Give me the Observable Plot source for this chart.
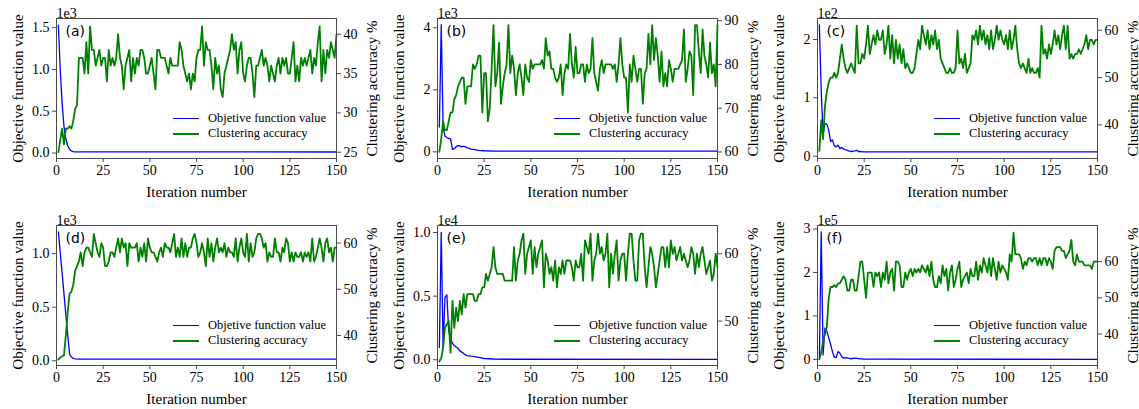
<!DOCTYPE html>
<html>
<head>
<meta charset="utf-8">
<script src="https://cdn.jsdelivr.net/npm/d3@7"></script>
<script src="https://cdn.jsdelivr.net/npm/@observablehq/plot@0.6"></script>
<style>
  html, body { margin: 0; padding: 0; background: #fff; }
  #root { position: relative; width: 1139px; height: 409px; overflow: hidden; background: #fff; }
  .panel { position: absolute; width: 380px; height: 200px; }
  .panel svg { position: absolute; left: 0; top: 0; overflow: visible; }
  .panel svg text { font-family: "Liberation Serif", serif !important; font-size: 14px !important; fill: #000; }
  .panel svg g[aria-label="y-axis label"] text, .panel svg g[aria-label="x-axis label"] text { font-size: 15px !important; }
  .panel svg g[font-family="DejaVu Sans"] text { font-family: "DejaVu Sans", sans-serif !important; font-size: 14px !important; }
  .legend { position: absolute; left: 173px; top: 111px; font-family: "Liberation Serif", serif; font-size: 12.5px; color: #000; line-height: 15px; }
  .legend .row { display: flex; align-items: center; white-space: nowrap; }
  .legend .sw { width: 26px; height: 0; margin-right: 9px; }
</style>
</head>
<body>
<div id="root"></div>
<script>
// ---------------- data ----------------
const panelTags = ["(a)", "(b)", "(c)", "(d)", "(e)", "(f)"];
const xTicks = [0, 25, 50, 75, 100, 125, 150];
const legendLabels = ["Objetive function value", "Clustering accuracy"];

// objective function value (sparse iteration points where it changes)
const objIterA = [1,2,3,4,5,6,7,8,9,10,150];
const objValA  = [1530,1000,600,320,170,90,45,25,16,13,12];
const objIterB = [1,2,3,4,5,6,7,8,9,10,11,12,13,14,15,16,17,18,20,22,25,30,150];
const objValB  = [800,4100,800,500,460,430,420,80,100,170,200,190,160,180,160,130,110,90,70,50,35,25,20];
const objIterC = [1,2,3,4,5,6,7,8,9,10,11,12,13,14,15,16,17,18,20,21,22,25,30,150];
const objValC  = [225,110,38,56,55,45,25,28,18,16,19,13,15,12,11,10,8.5,8,9,10,8,7.5,7.4,7.3];
const objIterD = [1,2,3,4,5,6,7,8,9,10,12,150];
const objValD  = [1203,1010,820,625,430,240,65,35,22,18,16,15];
const objIterE = [1,2,3,4,5,6,7,8,9,10,11,12,13,14,15,16,18,20,22,25,30,40,150];
const objValE  = [970,10000,1000,4900,5100,2300,1700,1300,1100,1000,900,700,600,500,380,330,280,240,180,100,60,40,30];
const objIterF = [1,2,3,4,5,6,7,8,9,10,11,12,13,14,15,16,18,20,22,25,150];
const objValF  = [500,293000,10000,72000,65000,50000,35000,18000,5000,4000,18000,14000,6000,3000,4000,3500,1500,3000,2000,500,300];

// clustering accuracy (%) for iterations 1..150
const accA = [25,26.5,28,26,28,28,28.3,28,29,30.5,31,37,37,37,35,39,35,41,38,38,36,37,38,36,37,
  37,34,38,36,37,36,37,40,37,36,33,36,37,38,34,37,35,37,36,38,38,37,35,35,36,
  37,35,33,38,38,37,37,37,36,35,37,36,36,36,36,39,38,36,35,34,35,33,35,34,37,
  38,38,41,36,39,38,38,36,33,37,35,36,33,32,35,36,37,38,40,38,39,35,38,39,35,
  34,36,37,37,35,32,36,36,37,38,36,37,36,34,36,35,34,36,37,35,37,36,37,35,35,
  37,39,34,36,34,37,36,37,36,37,38,35,37,36,39,41,34,38,35,38,37,39,38,37,40];
const accB = [60,63,67,65,65,67,69,69,72,73,75,76,77,77,71,75,75,75,80,79,80,82,82,69,78,
  78,67,70,79,89,75,78,85,71,75,78,80,89,78,82,79,73,78,80,77,73,80,77,76,81,
  79,80,80,80,80,81,79,86,82,83,79,79,77,76,77,80,73,78,80,79,87,80,77,84,78,
  78,80,80,76,80,78,79,86,78,76,74,79,81,78,80,80,80,80,79,80,76,80,86,80,77,
  77,69,80,76,82,79,76,79,79,71,78,79,87,80,89,81,86,82,76,83,75,78,75,81,79,
  76,79,79,79,80,81,88,76,79,83,82,73,89,89,83,78,88,82,80,77,85,78,80,75,89];
const accC = [34.5,41,37,44,47,49,50,50,51,50,51,54,57,54,52,51,52,53,52,51,61,53,53,55,54,
  57,61,55,57,59,57,60,58,58,60,55,57,61,54,59,53,58,54,57,53,56,52,53,52,51,
  51,52,55,58,56,61,59,57,60,56,59,57,60,56,58,54,53,52,51,51,52,51,51,52,60,
  53,54,52,55,51,52,53,59,58,60,57,61,58,60,57,59,56,60,56,58,61,58,60,58,57,
  59,56,60,56,58,61,56,53,52,53,52,51,54,51,52,51,51,52,50,61,55,56,54,57,55,
  57,60,57,59,56,59,61,56,61,54,55,54,55,55,56,55,56,57,59,56,58,58,57,58,58];
const accD = [34.8,35.2,35.5,35.7,40,45,49,49.5,51,54,55,56,58,55,58,59,59,58,57,62,60,58,57,60,59,
  55,55,56,58,58,57,59,61,58,61,59,60,55,60,59,59,59,60,56,59,57,60,56,61,59,
  58,58,57,56,58,59,57,60,59,59,58,60,62,57,59,57,61,57,60,57,59,59,61,62,60,
  57,58,60,58,55,61,57,60,56,59,61,58,59,58,60,57,59,58,58,57,61,56,59,61,58,
  57,62,56,60,57,58,61,62,62,61,59,60,56,58,57,57,61,58,58,56,59,58,61,60,56,
  58,56,58,57,57,58,56,58,57,58,56,61,56,57,59,61,59,56,60,61,58,59,56,59,59];
const accE = [44,44.5,46,49,49.5,50,45.3,53,49,52,50,53,51,54,52,54,54,54,54,53,53,54,54,55,55,
  57,56,57,58,61,58,57,57,57,57,56,56,56,56,56,61,56,59,60,62,63,57,60,61,62,
  57,61,58,60,61,62,55,60,59,57,58,56,59,55,58,57,59,57,59,59,59,58,56,59,58,
  58,60,56,62,61,60,63,56,59,60,63,60,61,59,60,63,55,60,57,60,62,56,59,60,60,
  56,60,63,63,59,56,56,62,63,63,58,55,58,61,60,58,55,57,59,61,61,58,61,58,62,
  60,61,59,60,61,59,60,59,58,59,61,60,57,60,58,60,61,59,57,58,59,56,57,60,58];
const accF = [33,35,38,40,42,50,53,53,53.5,53,54,54,55,56,55,52,52,55,55,52,52,56,60,60,55,
  50,57,57,57,53,57,56,57,53,57,55,60,54,57,58,52,60,60,59,53,53,57,55,57,58,
  56,58,57,58,57,59,58,57,59,56,60,55,53,53,56,54,59,56,58,52,57,59,53,55,58,
  60,53,55,56,57,54,58,56,56,60,55,59,57,61,59,57,61,56,61,58,55,60,57,59,58,
  57,55,62,60,68,62,62,62,61,58,60,59,61,61,60,61,61,59,61,59,61,61,59,61,60,
  58,63,64,64,64,63,63,61,62,63,66,60,59,62,60,60,60,59,59,59,59,58,60,60,60];

// axis ticks and tick labels
const objTicksA = [0, 500, 1000, 1500];      const objLabelsA = ["0.0","0.5","1.0","1.5"];
const objTicksB = [0, 2000, 4000];           const objLabelsB = ["0","2","4"];
const objTicksC = [0, 100, 200];             const objLabelsC = ["0","1","2"];
const objTicksD = [0, 500, 1000];            const objLabelsD = ["0.0","0.5","1.0"];
const objTicksE = [0, 5000, 10000];          const objLabelsE = ["0.0","0.5","1.0"];
const objTicksF = [0, 100000, 200000, 300000]; const objLabelsF = ["0","1","2","3"];
const objExponents = ["1e3", "1e3", "1e2", "1e3", "1e4", "1e5"];
const accTicksA = [25, 30, 35, 40];
const accTicksB = [60, 70, 80, 90];
const accTicksC = [40, 50, 60];
const accTicksD = [40, 50, 60];
const accTicksE = [50, 60];
const accTicksF = [40, 50, 60];

// scale domains (as in the original axes)
const objDomains = [[-66,1610],[-215,4300],[-4,236],[-44,1262],[-450,10550],[-14000,308000]];
const accDomains = [[24.2,42.0],[58.5,90.5],[32.9,62.5],[33.5,63.8],[43.4,64.2],[31.3,70.0]];

// ---------------- build ----------------
const objIters = [objIterA, objIterB, objIterC, objIterD, objIterE, objIterF];
const objVals = [objValA, objValB, objValC, objValD, objValE, objValF];
const accs = [accA, accB, accC, accD, accE, accF];
const objTicks = [objTicksA, objTicksB, objTicksC, objTicksD, objTicksE, objTicksF];
const objLabels = [objLabelsA, objLabelsB, objLabelsC, objLabelsD, objLabelsE, objLabelsF];
const accTicks = [accTicksA, accTicksB, accTicksC, accTicksD, accTicksE, accTicksF];

const panelLeft = [0, 381, 761, 0, 381, 761];
const panelTop = [0, 0, 0, 207, 207, 207];

const W = 380, H = 200;
const M = {marginLeft: 56, marginRight: 44, marginTop: 18, marginBottom: 42};
const STYLE = "font-family: 'Liberation Serif', serif; font-size: 14px; background: transparent; color: #000;";
const spine = "#4a4a4a";

const root = document.getElementById("root");

for (let p = 0; p < 6; p++) {
  const div = document.createElement("div");
  div.className = "panel";
  div.style.left = panelLeft[p] + "px";
  div.style.top = panelTop[p] + "px";

  const objData = objIters[p].map((x, i) => ({x, y: objVals[p][i]}));
  const accData = accs[p].map((y, i) => ({x: i + 1, y}));
  const oT = objTicks[p], oL = objLabels[p];

  const plotObj = Plot.plot({
    width: W, height: H, ...M,
    style: STYLE,
    x: {domain: [0, 150]},
    y: {domain: objDomains[p]},
    marks: [
      Plot.line(objData, {x: "x", y: "y", stroke: "#0000ff", strokeWidth: 1.3}),
      Plot.axisX({ticks: xTicks, tickSize: 4, tickPadding: 3, stroke: spine,
        label: "Iteration number", labelAnchor: "center", labelOffset: 38, labelArrow: "none"}),
      Plot.axisY({ticks: oT, tickFormat: d => oL[oT.indexOf(d)], tickSize: 4, tickPadding: 3, stroke: spine,
        label: "Objective function value", labelAnchor: "center", labelOffset: 44, labelArrow: "none"}),
      Plot.text([objExponents[p]], {frameAnchor: "top-left", lineAnchor: "bottom", dy: -1, textAnchor: "start", fontSize: 14}),
      Plot.text([panelTags[p]], {frameAnchor: "top-left", lineAnchor: "top", dx: 9, dy: 8, textAnchor: "start",
        fontFamily: "DejaVu Sans", fontSize: 14})
    ]
  });

  const plotAcc = Plot.plot({
    width: W, height: H, ...M,
    style: STYLE,
    x: {domain: [0, 150], axis: null},
    y: {domain: accDomains[p]},
    marks: [
      Plot.line(accData, {x: "x", y: "y", stroke: "#008000", strokeWidth: 1.8}),
      Plot.axisY({anchor: "right", ticks: accTicks[p], tickSize: 4, tickPadding: 3, stroke: spine,
        label: "Clustering accuracy %", labelAnchor: "center", labelOffset: 40, labelArrow: "none"}),
      Plot.frame({stroke: spine, strokeWidth: 1})
    ]
  });

  div.appendChild(plotObj);
  div.appendChild(plotAcc);

  const leg = document.createElement("div");
  leg.className = "legend";
  const colors = ["#0000ff", "#008000"];
  const widths = [1.3, 2];
  legendLabels.forEach((lab, i) => {
    const row = document.createElement("div");
    row.className = "row";
    const sw = document.createElement("span");
    sw.className = "sw";
    sw.style.borderTop = widths[i] + "px solid " + colors[i];
    const tx = document.createElement("span");
    tx.textContent = lab;
    row.appendChild(sw); row.appendChild(tx);
    leg.appendChild(row);
  });
  div.appendChild(leg);
  root.appendChild(div);
}
</script>
</body>
</html>
